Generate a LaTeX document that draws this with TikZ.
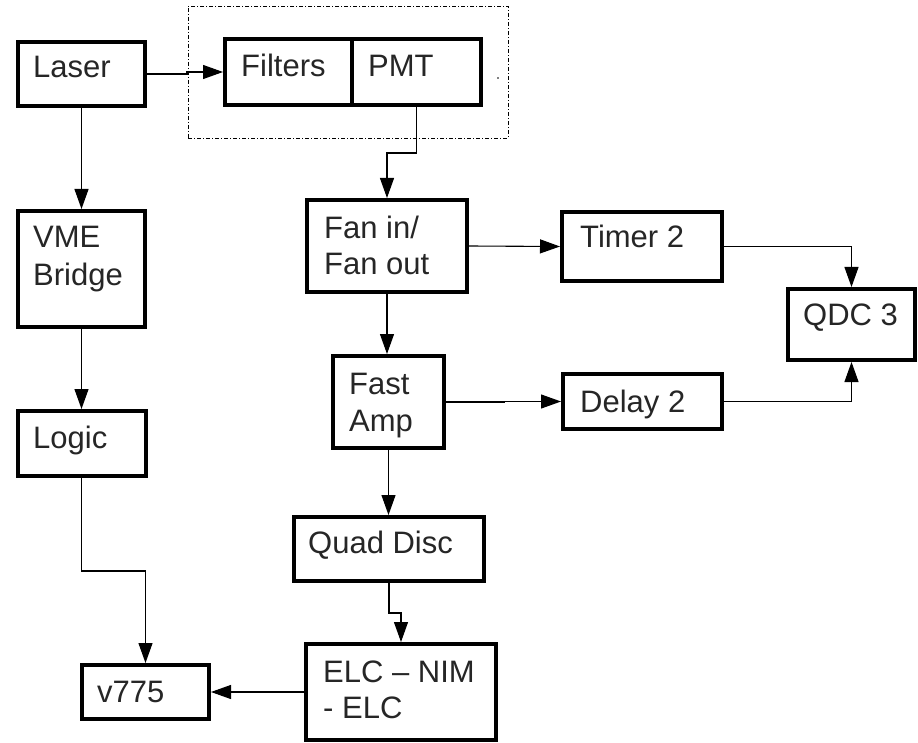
\documentclass[tikz,border=0pt]{standalone}
\usepackage{fontspec}
\setmainfont{Liberation Sans}
\usetikzlibrary{arrows.meta,calc}
\definecolor{txt}{RGB}{38,38,38}
\tikzset{
  blk/.style={draw=black, line width=4pt, fill=white, inner sep=0pt, rectangle},
  lbl/.style={anchor=base west, inner sep=0pt, text=txt, font=\fontsize{31}{37}\selectfont},
  conn/.style={draw=black, line width=1.1pt, -{Triangle[width=14pt,length=20pt]}},
  grp/.style={draw=black, line width=0.8pt, dash pattern=on 4pt off 2pt on 1pt off 2pt, inner sep=0pt, rectangle}
}
\begin{document}
\begin{tikzpicture}[x=1pt,y=-1pt]
\useasboundingbox (0,0) rectangle (918,743);
% group box
\node[grp, minimum width=320pt, minimum height=132pt] (grp) at (348,72) {};
\fill[black] (498,78) circle (0.9pt);
% boxes
\node[blk, minimum width=127pt, minimum height=64pt] (laser) at (81.5,74) {};
\node[blk, minimum width=127pt, minimum height=66pt] (filt) at (288.5,72) {};
\node[blk, minimum width=129pt, minimum height=66pt] (pmt) at (416.5,72) {};
\node[blk, minimum width=127pt, minimum height=116pt] (vme) at (81.5,269) {};
\node[blk, minimum width=128pt, minimum height=65pt] (logic) at (81.5,443.5) {};
\node[blk, minimum width=127pt, minimum height=54pt] (v775) at (145.5,692) {};
\node[blk, minimum width=160pt, minimum height=92pt] (fan) at (387,246) {};
\node[blk, minimum width=160pt, minimum height=69pt] (timer) at (642,246.5) {};
\node[blk, minimum width=127pt, minimum height=71pt] (qdc) at (851.5,324.5) {};
\node[blk, minimum width=111pt, minimum height=92pt] (fast) at (388.5,402) {};
\node[blk, minimum width=159pt, minimum height=55pt] (delay) at (642.5,401.5) {};
\node[blk, minimum width=190pt, minimum height=64pt] (quad) at (389,549) {};
\node[blk, minimum width=190pt, minimum height=96pt] (elc) at (401,692) {};
% labels
\node[lbl] (tLaser) at (33,78) {Laser};
\node[lbl] (tFilt) at (241,77) {Filters};
\node[lbl] (tPmt) at (368,77) {PMT};
\node[lbl] (tVme1) at (33,248) {VME};
\node[lbl] (tVme2) at (33,286) {Bridge};
\node[lbl] (tLogic) at (33,448) {Logic};
\node[lbl] (tV775) at (97,702) {v775};
\node[lbl] (tFan1) at (324,239) {Fan in/};
\node[lbl] (tFan2) at (324,275) {Fan out};
\node[lbl] (tTimer) at (580,248) {Timer 2};
\node[lbl] (tQdc) at (803,325) {QDC 3};
\node[lbl] (tFast1) at (349,394) {Fast};
\node[lbl] (tFast2) at (349,431) {Amp};
\node[lbl] (tDelay) at (580,412) {Delay 2};
\node[lbl] (tQuad) at (308,553) {Quad Disc};
\node[lbl] (tElc1) at (323,682) {ELC – NIM};
\node[lbl] (tElc2) at (323,718) {- ELC};
% connectors
\draw[conn] (laser.east) -- ++(40,0) |- (filt.west);
\draw[conn] (pmt.south) -- ++(0,46) -| (fan.north);
\draw[conn] (laser.south) -- (vme.north);
\draw[conn] (vme.south) -- (logic.south |- logic.north);
\draw[conn] (logic.south) -- ++(0,93) -| (v775.north);
\draw[conn] (fan.east) -- (timer.west);
\draw[conn] (timer.east) -| (qdc.north);
\draw[conn] (delay.east) -| (qdc.south);
\draw[conn] (fan.south) -- (fan.south |- fast.north);
\draw[conn] (fast.east) -- ++(58,0) |- (delay.west);
\draw[conn] (fast.south) -- (fast.south |- quad.north);
\draw[conn] (quad.south) -- ++(0,30) -| (elc.north);
\draw[conn] (elc.west) -- ++(-46,0) |- (v775.east);
\end{tikzpicture}
\end{document}
